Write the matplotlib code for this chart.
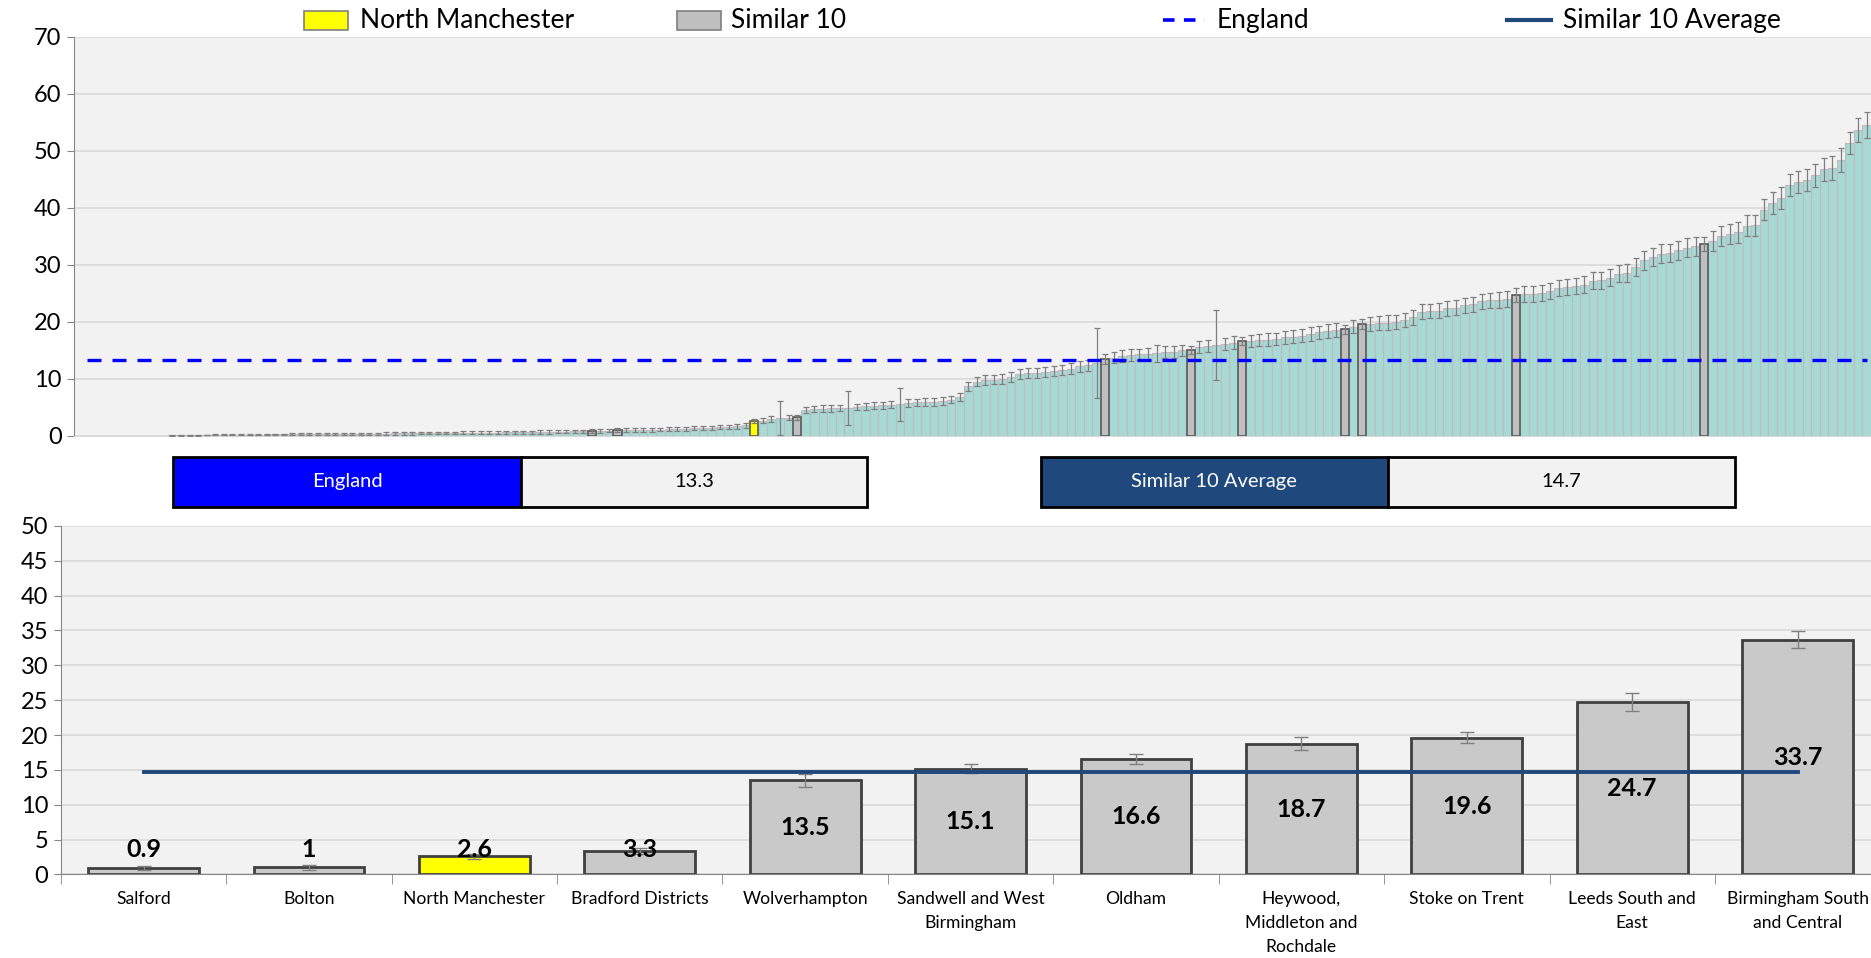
import numpy as np
import matplotlib
matplotlib.use("Agg")
import matplotlib.pyplot as plt
from matplotlib.patches import Rectangle
from matplotlib.lines import Line2D

plt.rcParams['font.family'] = ['Lato', 'DejaVu Sans']

# Data
# ----
england_value = 13.3
similar_avg = 14.7

# All areas, sorted ascending (first 11 have no value)
ccg_values = [0] * 11 + [
    0.10, 0.12, 0.13, 0.15, 0.17, 0.18, 0.20, 0.21, 0.22, 0.24,
    0.25, 0.26, 0.28, 0.29, 0.30, 0.31, 0.33, 0.34, 0.35, 0.36,
    0.37, 0.38, 0.40, 0.41, 0.42, 0.43, 0.45, 0.46, 0.47, 0.48,
    0.50, 0.51, 0.52, 0.54, 0.55, 0.57, 0.58, 0.60, 0.61, 0.63,
    0.64, 0.66, 0.68, 0.70, 0.72, 0.74, 0.76, 0.79, 0.82, 0.90,
    0.92, 0.95, 1.00, 1.02, 1.05, 1.08, 1.10, 1.13, 1.17, 1.22,
    1.28, 1.33, 1.40, 1.45, 1.52, 1.60, 1.70, 1.85, 2.60, 2.70,
    3.00, 3.10, 3.20, 3.30, 4.60, 4.70, 4.80, 4.85, 4.90, 4.95,
    5.10, 5.20, 5.30, 5.40, 5.50, 5.60, 5.80, 5.90, 5.95, 6.00,
    6.10, 6.40, 6.80, 8.70, 9.50, 9.80, 9.90, 10.00, 10.30, 10.90,
    11.00, 11.10, 11.20, 11.40, 11.60, 11.80, 12.20, 12.40, 12.80, 13.50,
    13.70, 14.00, 14.20, 14.30, 14.40, 14.50, 14.70, 14.80, 15.00, 15.10,
    15.60, 15.80, 16.00, 16.10, 16.40, 16.60, 16.70, 16.80, 16.90, 17.00,
    17.30, 17.40, 17.60, 17.90, 18.20, 18.40, 18.60, 18.70, 19.20, 19.60,
    19.70, 19.80, 19.90, 20.00, 20.30, 20.80, 21.80, 21.90, 22.00, 22.40,
    22.50, 22.90, 23.10, 23.60, 23.80, 23.90, 24.00, 24.70, 24.90, 24.95,
    25.10, 25.40, 26.00, 26.10, 26.30, 26.50, 27.20, 27.30, 27.80, 28.50,
    28.60, 29.60, 30.80, 31.40, 32.00, 32.10, 32.60, 33.00, 33.30, 33.70,
    34.20, 35.10, 35.40, 35.70, 36.90, 36.95, 39.70, 40.90, 41.80, 44.00,
    44.60, 44.90, 45.70, 46.80, 47.00, 48.40, 51.40, 53.70, 54.60,
]

# Confidence interval half widths
ccg_ci = [0] * 11 + [
    0.06, 0.07, 0.07, 0.08, 0.08, 0.09, 0.10, 0.10, 0.11, 0.11,
    0.12, 0.12, 0.13, 0.13, 0.14, 0.14, 0.15, 0.15, 0.16, 0.16,
    0.17, 0.17, 0.18, 0.18, 0.19, 0.19, 0.20, 0.20, 0.21, 0.21,
    0.22, 0.22, 0.23, 0.23, 0.24, 0.24, 0.25, 0.25, 0.26, 0.26,
    0.27, 0.27, 0.28, 0.28, 0.29, 0.29, 0.30, 0.30, 0.30, 0.30,
    0.31, 0.32, 0.35, 0.31, 0.31, 0.32, 0.32, 0.33, 0.33, 0.34,
    0.35, 0.35, 0.36, 0.37, 0.38, 0.38, 0.40, 0.42, 0.35, 0.50,
    0.55, 3.00, 0.40, 0.45, 0.55, 0.55, 0.56, 0.57, 0.58, 3.00,
    0.58, 0.60, 0.61, 0.62, 0.62, 2.90, 0.64, 0.65, 0.66, 0.66,
    0.68, 0.70, 0.72, 0.78, 0.80, 0.82, 0.82, 0.84, 0.85, 0.86,
    0.88, 0.88, 0.90, 0.90, 0.92, 0.94, 0.95, 0.96, 6.10, 0.90,
    0.98, 1.00, 1.00, 1.00, 1.02, 1.50, 1.02, 1.04, 1.04, 0.65,
    1.05, 1.06, 6.10, 1.06, 1.08, 0.70, 1.10, 1.10, 1.12, 1.12,
    1.14, 1.15, 1.15, 1.16, 1.18, 1.18, 1.20, 0.85, 1.20, 0.85,
    1.22, 1.22, 1.24, 1.24, 1.25, 1.26, 1.28, 1.28, 1.30, 1.30,
    1.32, 1.32, 1.34, 1.35, 1.35, 1.36, 1.38, 1.25, 1.40, 1.40,
    1.42, 1.42, 1.45, 1.45, 1.46, 1.48, 1.50, 1.50, 1.52, 1.55,
    1.55, 1.58, 1.60, 1.60, 1.62, 1.64, 1.65, 1.66, 1.68, 1.20,
    1.70, 1.72, 1.74, 1.76, 1.80, 1.80, 1.85, 1.88, 1.90, 1.95,
    1.95, 2.00, 2.00, 2.05, 2.05, 2.10, 2.00, 2.05, 2.30,
]

# Rank of the similar 10 and of North Manchester in the sorted list
similar_rank = [60, 63, 84, 120, 130, 136, 148, 150, 168, 190]
nm_rank = 79

peer_names = ["Salford", "Bolton", "North Manchester", "Bradford Districts",
              "Wolverhampton", "Sandwell and West\nBirmingham", "Oldham",
              "Heywood,\nMiddleton and\nRochdale", "Stoke on Trent",
              "Leeds South and\nEast", "Birmingham South\nand Central"]
peer_values = [0.9, 1.0, 2.6, 3.3, 13.5, 15.1, 16.6, 18.7, 19.6, 24.7, 33.7]
peer_lower = [0.6, 0.7, 2.2, 2.9, 12.6, 14.5, 15.9, 17.9, 18.8, 23.5, 32.5]
peer_upper = [1.2, 1.4, 2.9, 3.8, 14.4, 15.8, 17.3, 19.7, 20.5, 26.0, 34.9]
peer_is_nm = [False, False, True, False, False, False, False, False, False, False, False]

# Colours
teal = '#A7D9D5'
grey_bar = '#BFBFBF'
nm_yellow = '#FFFF00'
england_blue = '#0000FF'
avg_navy = '#1F497D'
plot_bg = '#F2F2F2'
grid_col = '#D9D9D9'

fig = plt.figure(figsize=(18.71, 9.58), dpi=100)

# Top chart: all areas
# --------------------
ax = fig.add_axes([0.0396, 0.5449, 0.9604, 0.4165])
vals = np.array(ccg_values, dtype=float)
ci = np.array(ccg_ci, dtype=float)
x = np.arange(len(vals))
has = vals > 0

ax.bar(x[has], vals[has], width=1.0, color=teal, edgecolor='#C3B9BE', linewidth=0.8, zorder=2)
sim = np.array(similar_rank)
ax.bar(sim, vals[sim], width=0.95, color=grey_bar, edgecolor='#595959', linewidth=1.2, zorder=3)
ax.bar([nm_rank], [vals[nm_rank]], width=0.95, color=nm_yellow, edgecolor='#595959', linewidth=1.2, zorder=3)
ax.errorbar(x[has], vals[has], yerr=ci[has], fmt='none', ecolor='#7F7F7F',
            elinewidth=0.9, capsize=2.5, capthick=0.9, zorder=4)
ax.plot(x[1:], np.full(len(x) - 1, england_value), color=england_blue, lw=2.4,
        dashes=(4.2, 3.3), zorder=5)

ax.set_xlim(-0.5, len(x) - 0.5)
ax.set_ylim(0, 70)
ax.set_yticks(np.arange(0, 71, 10))
ax.set_xticks([])
ax.set_facecolor(plot_bg)
ax.grid(axis='y', color=grid_col, lw=1.2, zorder=0)
ax.set_axisbelow(True)
for s in ['top', 'right']:
    ax.spines[s].set_visible(False)
ax.spines['left'].set_color('#868686')
ax.spines['bottom'].set_color(grid_col)
ax.tick_params(axis='y', labelsize=17, length=5, color='#868686', pad=4)

# Bottom chart: similar 10
# ------------------------
ax2 = fig.add_axes([0.0325, 0.0872, 0.9725, 0.3638])
xp = np.arange(len(peer_values))
pv = np.array(peer_values)
bar_cols = [nm_yellow if f else '#C9C9C9' for f in peer_is_nm]
ax2.bar(xp, pv, width=0.67, color=bar_cols, edgecolor='#404040', linewidth=2, zorder=2)
yerr = [pv - np.array(peer_lower), np.array(peer_upper) - pv]
ax2.errorbar(xp, pv, yerr=yerr, fmt='none', ecolor='#808080', elinewidth=1,
             capsize=5, capthick=1, zorder=3)
ax2.plot(xp, np.full(len(xp), similar_avg), color=avg_navy, lw=2.8, zorder=4)

for xi, v in zip(xp, pv):
    ax2.text(xi, max(v / 2, 3.6), f"{v:g}", ha='center', va='center',
             fontsize=18, fontweight='bold', zorder=5)

ax2.set_xlim(-0.5, len(xp) - 0.5)
ax2.set_ylim(0, 50)
ax2.set_yticks(np.arange(0, 51, 5))
ax2.set_xticks(xp)
ax2.set_xticklabels(peer_names, fontsize=12.6, linespacing=1.6, va='top')
ax2.set_xticks(np.arange(-0.5, len(xp), 1), minor=True)
ax2.tick_params(axis='x', which='major', length=0, pad=12)
ax2.tick_params(axis='x', which='minor', length=7, color='#868686')
ax2.tick_params(axis='y', labelsize=17, length=5, color='#868686', pad=4)
ax2.set_facecolor(plot_bg)
ax2.grid(axis='y', color=grid_col, lw=1.2, zorder=0)
ax2.set_axisbelow(True)
for s in ['top', 'right']:
    ax2.spines[s].set_visible(False)
ax2.spines['left'].set_color('#868686')
ax2.spines['bottom'].set_color('#868686')

# Value boxes between the charts
# ------------------------------
W, H = 1568.0, 803.0


def box(x0, x1, x2, label, value, col):
    y0 = 1 - 425 / H
    h = (425 - 383) / H
    fig.add_artist(Rectangle((x0 / W, y0), (x1 - x0) / W, h, facecolor=col,
                             edgecolor='black', lw=2, transform=fig.transFigure))
    fig.add_artist(Rectangle((x1 / W, y0), (x2 - x1) / W, h, facecolor=plot_bg,
                             edgecolor='black', lw=2, transform=fig.transFigure))
    fig.text((x0 + x1) / 2 / W, y0 + h / 2, label, color='white', fontsize=14.5,
             ha='center', va='center')
    fig.text((x1 + x2) / 2 / W, y0 + h / 2, f"{value:g}", color='black', fontsize=14.5,
             ha='center', va='center')


box(145, 437, 727, "England", england_value, england_blue)
box(872, 1163, 1454, "Similar 10 Average", similar_avg, avg_navy)

# Legend
# ------
ly = 1 - 17 / H
fig.add_artist(Rectangle((255 / W, 1 - 25 / H), 37 / W, 16 / H, facecolor=nm_yellow,
                         edgecolor='#7F7F7F', lw=1.2, transform=fig.transFigure))
fig.text(302 / W, ly, "North Manchester", fontsize=19, va='center')
fig.add_artist(Rectangle((567 / W, 1 - 25 / H), 37 / W, 16 / H, facecolor=grey_bar,
                         edgecolor='#7F7F7F', lw=1.2, transform=fig.transFigure))
fig.text(613 / W, ly, "Similar 10", fontsize=19, va='center')
fig.add_artist(Line2D([975 / W, 1010 / W], [ly, ly], color=england_blue, lw=2.6,
                      dashes=(3.2, 2.6), transform=fig.transFigure))
fig.text(1020 / W, ly, "England", fontsize=19, va='center')
fig.add_artist(Line2D([1263 / W, 1300 / W], [ly, ly], color=avg_navy, lw=3,
                      transform=fig.transFigure))
fig.text(1310 / W, ly, "Similar 10 Average", fontsize=19, va='center')

fig.savefig("out.png", dpi=100)
